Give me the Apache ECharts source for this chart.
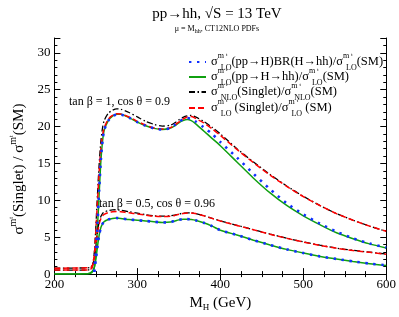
<!DOCTYPE html>
<html><head><meta charset="utf-8">
<script src="https://cdn.jsdelivr.net/npm/echarts@6/dist/echarts.min.js"></script>
<style>html,body{margin:0;padding:0;background:#fff}#c{width:399px;height:317px}</style>
</head><body><div id="c"></div>
<script>
// M_H values (GeV)
const mh = [200,240,245,248,250,252,254,256,258,260,265,270,275,280,290,300,310,320,330,340,345,350,355,360,365,370,380,390,400,420,440,460,480,500,520,540,560,580,600];
// tan beta = 1, cos theta = 0.9
const blueA  = [null,null,null,0.3,3.2,7.0,11.5,15.5,18.0,19.5,20.8,21.4,21.6,21.6,21.2,20.6,20.1,19.75,19.6,19.8,20.2,20.6,21.0,21.15,21.05,20.7,19.9,19.0,17.9,15.8,13.6,11.5,9.6,8.1,6.85,5.75,4.85,4.15,3.6];
const greenA = [0.02,0.05,0.2,0.8,3.0,6.5,11.0,15.3,18.0,19.5,20.8,21.4,21.65,21.65,21.2,20.6,20.1,19.75,19.6,19.8,20.1,20.5,20.8,20.95,20.8,20.4,19.4,18.4,17.4,15.2,13.0,11.0,9.3,7.9,6.7,5.6,4.8,4.1,3.55];
const blackA = [0.55,0.55,0.8,2.8,6.5,11.0,15.0,18.0,19.8,20.8,21.8,22.2,22.4,22.35,21.9,21.3,20.7,20.3,20.05,20.2,20.5,20.9,21.25,21.45,21.5,21.3,20.7,19.9,19.0,17.0,15.2,13.5,11.95,10.55,9.3,8.2,7.3,6.5,5.8];
const redA   = [0.55,0.55,0.8,2.5,6.0,10.0,14.0,17.0,18.8,19.8,21.0,21.5,21.75,21.7,21.3,20.7,20.2,19.8,19.65,19.85,20.2,20.6,21.0,21.3,21.35,21.1,20.5,19.7,18.8,16.9,15.1,13.4,11.9,10.5,9.3,8.2,7.3,6.5,5.8];
// tan beta = 0.5, cos theta = 0.96
const blueB  = [null,null,null,0.3,2.0,3.8,5.3,6.3,6.8,7.1,7.4,7.55,7.6,7.55,7.4,7.3,7.2,7.1,7.0,7.05,7.2,7.35,7.45,7.45,7.4,7.3,6.95,6.5,5.95,5.3,4.6,3.95,3.35,2.85,2.4,2.05,1.72,1.42,1.2];
const greenB = [0.02,0.05,0.3,0.9,2.0,3.8,5.3,6.3,6.8,7.1,7.4,7.55,7.6,7.55,7.4,7.3,7.2,7.1,7.0,7.05,7.2,7.35,7.45,7.45,7.4,7.3,6.95,6.5,5.95,5.3,4.6,3.95,3.35,2.85,2.4,2.05,1.7,1.4,1.17];
const blackB = [0.8,0.85,1.0,2.1,4.2,5.9,7.1,7.8,8.2,8.4,8.6,8.7,8.72,8.65,8.45,8.25,8.05,7.9,7.85,7.9,8.0,8.15,8.25,8.3,8.3,8.22,7.92,7.57,7.22,6.62,6.02,5.42,4.87,4.37,3.92,3.52,3.22,2.97,2.72];
const redB   = [0.8,0.85,1.0,2.0,4.0,5.6,6.8,7.5,7.9,8.1,8.35,8.45,8.5,8.45,8.3,8.15,8.0,7.85,7.8,7.85,7.95,8.1,8.2,8.27,8.28,8.2,7.9,7.55,7.2,6.6,6.0,5.4,4.85,4.35,3.9,3.5,3.2,2.95,2.7];
const xTicks = [200,300,400,500,600];
const yTicks = [0,5,10,15,20,25,30];

const F = 'Liberation Serif';
const C = '#000';
const rich = {
  n:{fontFamily:F,fontSize:12.5,color:C,lineHeight:20},
  sup:{fontFamily:F,fontSize:8,color:C,verticalAlign:'top',lineHeight:9,width:1},
  t:{fontFamily:F,fontSize:5,color:C,verticalAlign:'top',lineHeight:12,width:1},
  sub:{fontFamily:F,fontSize:8,color:C,verticalAlign:'bottom',lineHeight:9},
  w:{fontFamily:F,fontSize:8,color:C,width:1}
};
// superscript m (with tiny t) stacked over the subscript
const sig = (s) => '{n|σ}{sup|m}{w| }{t|     t}{sub|'+s+'}';
const names = ['blue','green','black','red'];
const labels = {
  blue: sig('LO')+'{n|(pp→H)BR(H→hh)/σ}'+'{sup|m}{w| }{t|     t}{sub|LO}{n|(SM)}',
  green: sig('LO')+'{n|(pp→H→hh)/σ}'+'{sup|m}{w| }{t|     t}{sub|LO}{n|(SM)}',
  black: sig('NLO')+'{n|(Singlet)/σ}{sup|m}{w| }{t|     t}{sub|NLO}{n|(SM)}',
  red: sig('LO')+'{n| (Singlet)/σ}'+'{sup|m}{w| }{t|     t}{sub|LO}{n| (SM)}'
};
const styles = {
  blue:{color:'#1030ff',width:2.6,type:[2.4,5.6],cap:'butt'},
  green:{color:'#10a010',width:1.5,type:'solid'},
  black:{color:'#000',width:1.3,type:[6,2.5,1.5,2.5]},
  red:{color:'#ff0000',width:1.5,type:[6,3]}
};
const pts = v => mh.map((x,i)=>[x,v[i]]);
const series = [];
const sets = {green:[greenA,greenB],black:[blackA,blackB],red:[redA,redB],blue:[blueA,blueB]};
['green','black','red','blue'].forEach(k=>{
  sets[k].forEach(arr=>{
    series.push({type:'line',name:k,data:pts(arr),symbol:'none',smooth:0.25,
      lineStyle:styles[k],itemStyle:{color:styles[k].color},connectNulls:false,animation:false,z:k==='blue'?5:3});
  });
});
const rowY = [62,77,92,108];
const legends = names.map((k,i)=>({
  data:[k],left:188,top:rowY[i]-10,itemWidth:17,itemHeight:10,padding:0,itemGap:0,
  itemStyle:{opacity:0},
  formatter:()=>labels[k],textStyle:{rich:rich},selectedMode:false
}));
const axLine = {show:true,lineStyle:{color:C,width:1}};
const grid = {left:37,right:11,top:38,bottom:33};
const option = {
  animation:false,
  grid:grid,
  title:{text:'pp→hh, √S = 13 TeV',subtext:'{a|μ = M}{b|hh}{a|, CT12NLO PDFs}',left:212,textAlign:'center',top:2,itemGap:1,
    textStyle:{fontFamily:F,fontSize:15,fontWeight:'normal',color:C},
    subtextStyle:{rich:{a:{fontFamily:F,fontSize:8,color:C},b:{fontFamily:F,fontSize:6,color:C,padding:[5,0,0,0]}}}},
  legend:legends,
  xAxis:[
    {type:'value',min:200,max:600,interval:100,position:'bottom',axisLine:axLine,
     axisTick:{inside:true,length:6,lineStyle:{color:C}},minorTick:{show:true,splitNumber:4,length:3,lineStyle:{color:C}},
     splitLine:{show:false},
     axisLabel:{fontFamily:F,fontSize:13,color:C,margin:4,formatter:v=>xTicks.includes(v)?String(v):''},
     name:'{n|M}{s|H}{n| (GeV)}',nameLocation:'middle',nameGap:14,
     nameTextStyle:{rich:{n:{fontFamily:F,fontSize:15,color:C},s:{fontFamily:F,fontSize:9,color:C,padding:[8,0,0,0]}}}},
    {type:'value',min:200,max:600,interval:100,position:'top',axisLine:axLine,
     axisTick:{inside:true,length:6,lineStyle:{color:C}},minorTick:{show:true,splitNumber:4,length:3,lineStyle:{color:C}},
     splitLine:{show:false},axisLabel:{show:false}}
  ],
  yAxis:[
    {type:'value',min:0,max:32,interval:5,position:'left',axisLine:axLine,
     axisTick:{inside:true,length:6,lineStyle:{color:C}},splitLine:{show:false},
     axisLabel:{fontFamily:F,fontSize:13,color:C,margin:4,formatter:v=>yTicks.includes(v)?String(v):''},
     name:'{n|σ}{s|m}{t|t}{n|(Singlet) / σ}{s|m}{t|t}{n|(SM)}',nameLocation:'middle',nameGap:22,nameRotate:90,
     nameTextStyle:{padding:[0,26,0,0],rich:{n:{fontFamily:F,fontSize:15,color:C,lineHeight:22},s:{fontFamily:F,fontSize:10,color:C,verticalAlign:'top',lineHeight:11},t:{fontFamily:F,fontSize:6,color:C,verticalAlign:'top',lineHeight:15}}}},
    {type:'value',min:0,max:32,interval:5,position:'right',axisLine:axLine,
     axisTick:{inside:true,length:6,lineStyle:{color:C}},splitLine:{show:false},axisLabel:{show:false}},
    {type:'value',min:0,max:32,interval:1,position:'left',axisLine:{show:false},
     axisTick:{inside:true,length:3,lineStyle:{color:C}},splitLine:{show:false},axisLabel:{show:false}},
    {type:'value',min:0,max:32,interval:1,position:'right',axisLine:{show:false},
     axisTick:{inside:true,length:3,lineStyle:{color:C}},splitLine:{show:false},axisLabel:{show:false}}
  ],
  graphic:[
    {type:'text',left:69,top:96,style:{text:'tan β = 1, cos θ = 0.9',font:'12px "Liberation Serif"',fill:C}},
    {type:'text',left:99,top:198,style:{text:'tan β = 0.5, cos θ = 0.96',font:'12px "Liberation Serif"',fill:C}}
  ],
  series:series
};
const chart = echarts.init(document.getElementById('c'),null,{renderer:'canvas'});
chart.setOption(option);
</script></body></html>
